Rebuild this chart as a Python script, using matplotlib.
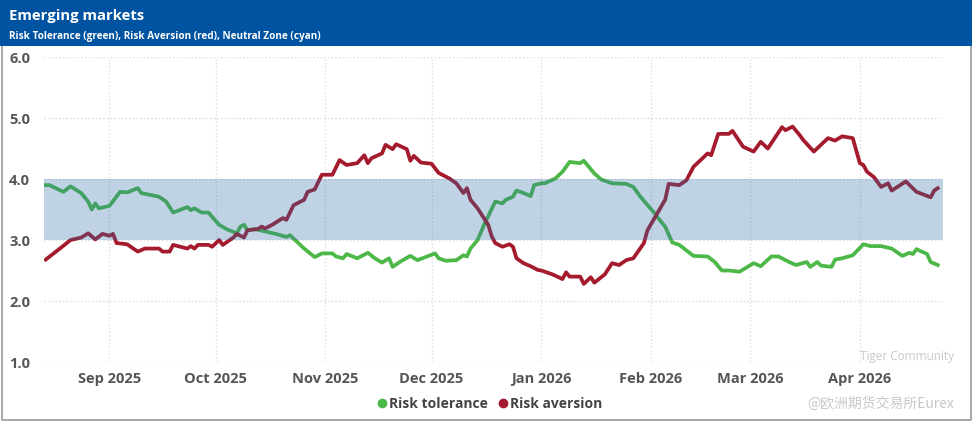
import matplotlib.pyplot as plt
import matplotlib.dates as mdates
from matplotlib.lines import Line2D
from matplotlib.patches import Rectangle
import pandas as pd

# values
tol_dates = ['2025-08-14', '2025-08-15', '2025-08-19', '2025-08-21', '2025-08-24', '2025-08-26',
             '2025-08-27', '2025-08-28', '2025-08-29', '2025-09-01', '2025-09-04', '2025-09-06',
             '2025-09-09', '2025-09-10', '2025-09-15', '2025-09-17', '2025-09-19', '2025-09-23',
             '2025-09-24', '2025-09-25', '2025-09-27', '2025-09-29', '2025-09-30', '2025-10-02',
             '2025-10-04', '2025-10-07', '2025-10-08', '2025-10-09', '2025-10-10', '2025-10-12',
             '2025-10-15', '2025-10-18', '2025-10-21', '2025-10-22', '2025-10-24', '2025-10-26',
             '2025-10-29', '2025-10-31', '2025-11-03', '2025-11-04', '2025-11-06', '2025-11-07',
             '2025-11-10', '2025-11-13', '2025-11-15', '2025-11-17', '2025-11-19', '2025-11-20',
             '2025-11-22', '2025-11-25', '2025-11-27', '2025-12-02', '2025-12-03', '2025-12-05',
             '2025-12-08', '2025-12-10', '2025-12-11', '2025-12-12', '2025-12-14', '2025-12-16',
             '2025-12-19', '2025-12-21', '2025-12-22', '2025-12-24', '2025-12-25', '2025-12-27',
             '2025-12-29', '2025-12-30', '2026-01-01', '2026-01-02', '2026-01-05', '2026-01-07',
             '2026-01-09', '2026-01-12', '2026-01-13', '2026-01-16', '2026-01-18', '2026-01-21',
             '2026-01-25', '2026-01-27', '2026-01-29', '2026-02-02', '2026-02-03', '2026-02-05',
             '2026-02-07', '2026-02-09', '2026-02-11', '2026-02-13', '2026-02-17', '2026-02-19',
             '2026-02-21', '2026-02-23', '2026-02-26', '2026-03-02', '2026-03-04', '2026-03-07',
             '2026-03-09', '2026-03-12', '2026-03-14', '2026-03-17', '2026-03-18', '2026-03-20',
             '2026-03-21', '2026-03-24', '2026-03-25', '2026-03-27', '2026-03-30', '2026-04-02',
             '2026-04-04', '2026-04-07', '2026-04-10', '2026-04-13', '2026-04-15', '2026-04-16',
             '2026-04-17', '2026-04-20', '2026-04-21', '2026-04-23']
tol_values = [3.90, 3.90, 3.79, 3.88, 3.77, 3.63,
              3.50, 3.60, 3.52, 3.56, 3.79, 3.78,
              3.85, 3.77, 3.71, 3.63, 3.45, 3.54,
              3.49, 3.52, 3.45, 3.45, 3.38, 3.25,
              3.18, 3.11, 3.22, 3.25, 3.16, 3.18,
              3.14, 3.10, 3.05, 3.08, 2.97, 2.86,
              2.72, 2.78, 2.78, 2.73, 2.70, 2.77,
              2.70, 2.79, 2.70, 2.63, 2.70, 2.56,
              2.64, 2.74, 2.67, 2.78, 2.70, 2.66,
              2.67, 2.75, 2.73, 2.86, 3.00, 3.27,
              3.63, 3.60, 3.66, 3.71, 3.81, 3.77,
              3.72, 3.90, 3.93, 3.93, 4.01, 4.12,
              4.28, 4.26, 4.30, 4.09, 3.99, 3.93,
              3.92, 3.87, 3.71, 3.44, 3.36, 3.22,
              2.96, 2.92, 2.83, 2.74, 2.73, 2.64,
              2.50, 2.50, 2.48, 2.62, 2.57, 2.73,
              2.73, 2.64, 2.59, 2.64, 2.56, 2.64,
              2.58, 2.56, 2.68, 2.70, 2.75, 2.93,
              2.90, 2.90, 2.86, 2.74, 2.79, 2.77,
              2.85, 2.77, 2.64, 2.59]

av_dates = ['2025-08-14', '2025-08-18', '2025-08-21', '2025-08-24', '2025-08-26', '2025-08-28',
            '2025-08-30', '2025-09-01', '2025-09-02', '2025-09-03', '2025-09-06', '2025-09-09',
            '2025-09-11', '2025-09-15', '2025-09-16', '2025-09-18', '2025-09-19', '2025-09-23',
            '2025-09-24', '2025-09-25', '2025-09-26', '2025-09-29', '2025-09-30', '2025-10-02',
            '2025-10-03', '2025-10-06', '2025-10-07', '2025-10-09', '2025-10-10', '2025-10-13',
            '2025-10-14', '2025-10-15', '2025-10-17', '2025-10-20', '2025-10-21', '2025-10-23',
            '2025-10-26', '2025-10-27', '2025-10-29', '2025-10-31', '2025-11-03', '2025-11-05',
            '2025-11-07', '2025-11-10', '2025-11-12', '2025-11-13', '2025-11-14', '2025-11-17',
            '2025-11-18', '2025-11-20', '2025-11-21', '2025-11-24', '2025-11-25', '2025-11-26',
            '2025-11-28', '2025-12-01', '2025-12-03', '2025-12-06', '2025-12-08', '2025-12-10',
            '2025-12-11', '2025-12-12', '2025-12-14', '2025-12-17', '2025-12-18', '2025-12-19',
            '2025-12-21', '2025-12-23', '2025-12-24', '2025-12-25', '2025-12-27', '2025-12-29',
            '2025-12-31', '2026-01-01', '2026-01-04', '2026-01-07', '2026-01-08', '2026-01-09',
            '2026-01-12', '2026-01-13', '2026-01-15', '2026-01-16', '2026-01-19', '2026-01-21',
            '2026-01-23', '2026-01-25', '2026-01-27', '2026-01-30', '2026-01-31', '2026-02-02',
            '2026-02-05', '2026-02-06', '2026-02-09', '2026-02-11', '2026-02-13', '2026-02-15',
            '2026-02-17', '2026-02-18', '2026-02-20', '2026-02-23', '2026-02-24', '2026-02-27',
            '2026-03-02', '2026-03-04', '2026-03-06', '2026-03-10', '2026-03-11', '2026-03-13',
            '2026-03-15', '2026-03-16', '2026-03-19', '2026-03-23', '2026-03-25', '2026-03-27',
            '2026-03-30', '2026-04-01', '2026-04-02', '2026-04-03', '2026-04-05', '2026-04-07',
            '2026-04-09', '2026-04-10', '2026-04-14', '2026-04-17', '2026-04-21', '2026-04-22',
            '2026-04-23']
av_values = [2.68, 2.86, 3.00, 3.04, 3.11, 3.01,
             3.10, 3.07, 3.10, 2.95, 2.93, 2.81,
             2.86, 2.86, 2.81, 2.81, 2.92, 2.86,
             2.90, 2.86, 2.92, 2.92, 2.89, 3.00,
             2.92, 3.04, 3.10, 3.04, 3.16, 3.18,
             3.22, 3.19, 3.25, 3.36, 3.33, 3.57,
             3.66, 3.79, 3.83, 4.07, 4.07, 4.31,
             4.23, 4.26, 4.39, 4.26, 4.34, 4.42,
             4.56, 4.49, 4.57, 4.49, 4.30, 4.38,
             4.27, 4.25, 4.10, 4.01, 3.93, 3.77,
             3.85, 3.66, 3.52, 3.25, 3.06, 2.95,
             2.89, 2.93, 2.89, 2.70, 2.62, 2.57,
             2.51, 2.50, 2.44, 2.36, 2.47, 2.40,
             2.40, 2.28, 2.39, 2.30, 2.44, 2.62,
             2.59, 2.67, 2.70, 2.95, 3.16, 3.36,
             3.66, 3.92, 3.90, 3.98, 4.20, 4.31,
             4.42, 4.39, 4.74, 4.74, 4.79, 4.53,
             4.45, 4.61, 4.50, 4.85, 4.80, 4.86,
             4.72, 4.64, 4.45, 4.67, 4.63, 4.70,
             4.67, 4.26, 4.23, 4.12, 4.03, 3.87,
             3.93, 3.81, 3.96, 3.79, 3.70, 3.81,
             3.85]

neutral_low, neutral_high = 3.0, 4.0
month_ticks = ['2025-09-01', '2025-10-01', '2025-11-01', '2025-12-01',
               '2026-01-01', '2026-02-01', '2026-03-01', '2026-04-01']

plt.rcParams['font.family'] = ['Open Sans', 'DejaVu Sans']

green = '#4cb848'
red = '#a51b2e'
band_color = '#2f6fa8'
title_blue = '#0053a0'
text_gray = '#555555'
grid_color = '#dcdcdc'

fig = plt.figure(figsize=(9.75, 4.23), dpi=100)

# outer frame and header bar (behind the axes)
fig.patches.append(Rectangle((0.002, 0.008), 0.994, 0.99, transform=fig.transFigure,
                             facecolor='white', edgecolor='#9a9a9a', linewidth=1.2, zorder=-2))
fig.patches.append(Rectangle((0.0, 0.891), 0.997, 0.109, transform=fig.transFigure,
                             facecolor=title_blue, edgecolor='none', zorder=-1))
fig.text(0.009, 0.963, 'Emerging markets', color='white', fontsize=10.7,
         fontweight='bold', va='center')
fig.text(0.009, 0.914, 'Risk Tolerance (green), Risk Aversion (red), Neutral Zone (cyan)',
         color='white', fontsize=7.2, fontweight='bold', va='center')

ax = fig.add_axes([0.0451, 0.1442, 0.9221, 0.721])
ax.set_facecolor('none')
ax.set_zorder(2)

tol = pd.Series(tol_values, index=pd.to_datetime(tol_dates))
av = pd.Series(av_values, index=pd.to_datetime(av_dates))

ax.plot(tol.index, tol.values, color=green, linewidth=2.7, solid_joinstyle='round', zorder=3)
ax.plot(av.index, av.values, color=red, linewidth=2.7, solid_joinstyle='round', zorder=3)

xmin = pd.Timestamp('2025-08-13 12:00')
xmax = pd.Timestamp('2026-04-24 12:00')
ax.axhspan(neutral_low, neutral_high, color=band_color, alpha=0.3, linewidth=0, zorder=4)

ax.set_xlim(xmin, xmax)
ax.set_ylim(1.0, 6.0)
ax.set_yticks([1, 2, 3, 4, 5, 6])
ax.set_yticklabels([f'{v:.1f}' for v in [1, 2, 3, 4, 5, 6]])
ax.set_xticks(pd.to_datetime(month_ticks))
ax.xaxis.set_major_formatter(mdates.DateFormatter('%b %Y'))

ax.grid(True, color=grid_color, linestyle=':', linewidth=1.0, zorder=1)
ax.set_axisbelow(True)
for s in ax.spines.values():
    s.set_visible(False)
ax.tick_params(length=0, colors=text_gray, labelsize=10.5)
ax.tick_params(axis='x', pad=7)
ax.tick_params(axis='y', pad=10)
for lbl in ax.get_xticklabels() + ax.get_yticklabels():
    lbl.set_fontweight('bold')

handles = [Line2D([], [], color=green, marker='o', linestyle='none', markersize=6),
           Line2D([], [], color=red, marker='o', linestyle='none', markersize=6)]
leg = fig.legend(handles, ['Risk tolerance', 'Risk aversion'], loc='center',
                 bbox_to_anchor=(0.501, 0.045), ncol=2, frameon=False,
                 handletextpad=0.0, columnspacing=0.6, handlelength=1.0,
                 prop={'weight': 'bold', 'size': 10})
for t in leg.get_texts():
    t.set_color('#444444')

# faint watermark
fig.text(0.978, 0.158, 'Tiger Community', color='#c8c8c8', fontsize=8.5, ha='right', va='center')
fig.text(0.978, 0.045, '@欧洲期货交易所Eurex', color='#c8c8c8', fontsize=10, ha='right', va='center',
         family=['Noto Sans CJK SC', 'DejaVu Sans'])

fig.savefig('out.png', dpi=100)
